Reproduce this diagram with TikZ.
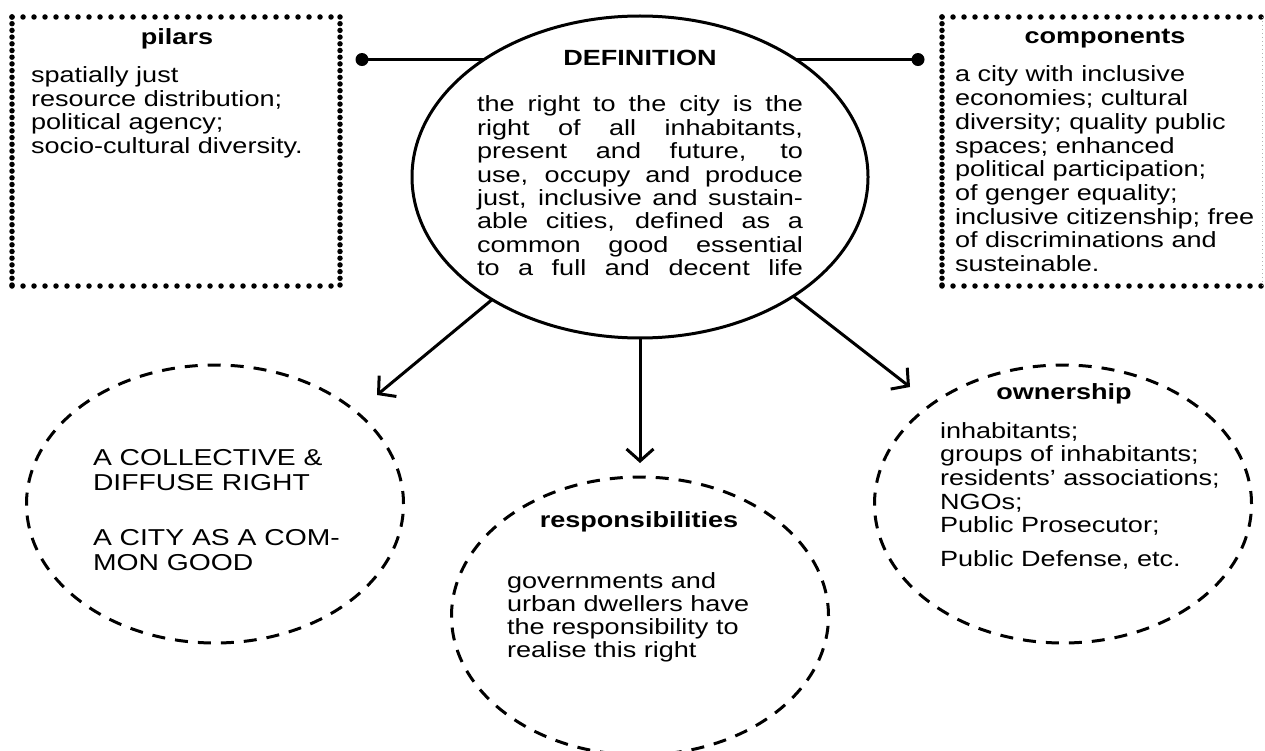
\documentclass[tikz,border=0pt]{standalone}
\usepackage{fontspec}
\setmainfont{Liberation Sans}[FakeStretch=1.23]
\usetikzlibrary{shapes.geometric,arrows.meta}
\begin{document}
\begin{tikzpicture}[x=1pt,y=-1pt,
  body/.style={inner sep=0pt, outer sep=0pt, anchor=base west, font=\fontsize{22}{23.4}\selectfont},
  ttl/.style={inner sep=0pt, outer sep=0pt, anchor=base, font=\fontsize{22}{24}\selectfont\bfseries},
  dashell/.style={ellipse, draw, line width=3pt, dash pattern=on 13pt off 10pt, minimum width=377pt, minimum height=278pt, inner sep=0pt, outer sep=0pt},
  hdots/.style={line width=5.5pt, line cap=round, dash pattern=on 0pt off 11pt},
  vdots/.style={line width=5.5pt, line cap=round, dash pattern=on 0pt off 6.7pt},
  conn/.style={line width=3pt},
  arr/.style={line width=3pt, -{Straight Barb[length=12pt,width=27pt]}},
  dotnode/.style={circle, fill, inner sep=0pt, outer sep=0pt, minimum size=13pt},
  boxnode/.style={rectangle, inner sep=0pt, outer sep=0pt}
]
\useasboundingbox (0,0) rectangle (1265,751);

% dotted boxes
\node[boxnode, minimum width=328pt, minimum height=269pt] (pil) at (176,151.5) {};
\draw[hdots] (pil.north west) -- (pil.north east);
\draw[hdots] (pil.south west) -- (pil.south east);
\draw[vdots] (pil.north west) -- (pil.south west);
\draw[vdots] (pil.north east) -- (pil.south east);

\node[boxnode, minimum width=320pt, minimum height=269pt] (com) at (1102,151.5) {};
\draw[hdots] (com.north west) -- (com.north east);
\draw[hdots] (com.south west) -- (com.south east);
\draw[vdots] (com.north west) -- (com.south west);
\draw[gray!60, line width=0.8pt, dash pattern=on 1pt off 3pt] (com.north east) -- (com.south east);

% definition
\node[ellipse, draw, line width=3pt, minimum width=456pt, minimum height=322pt, inner sep=0pt, outer sep=0pt] (def) at (640,177) {};

\coordinate (lx) at (362,0);
\coordinate (rx) at (918,0);
\node[dotnode] (ldot) at (def.143 -| lx) {};
\node[dotnode] (rdot) at (def.37 -| rx) {};
\draw[conn] (ldot.center) -- (def.143);
\draw[conn] (rdot.center) -- (def.37);

% lower ellipses
\node[dashell] (col) at (215,504) {};
\node[dashell] (resp) at (640,616) {};
\node[dashell] (own) at (1063,504) {};

\coordinate (ltip) at (377,395);
\coordinate (mtip) at (640,463);
\coordinate (rtip) at (910,387);
\draw[arr] (def) -- (ltip);
\draw[arr] (def) -- (mtip);
\draw[arr] (def) -- (rtip);

% texts
\node[ttl] (pilT) at (177,45) {pilars};
\node[body] (pilB) at (31,83) {\parbox[t]{300pt}{\raggedright spatially just\\resource distribution;\\political agency;\\socio-cultural diversity.}};

\node[ttl] (comT) at (1105,44) {components};
\node[body, font=\fontsize{22}{23.7}\selectfont] (comB) at (955,82) {\parbox[t]{300pt}{\raggedright a city with inclusive\\economies; cultural\\diversity; quality public\\spaces; enhanced\\political participation;\\of genger equality;\\inclusive citizenship; free\\of discriminations and\\susteinable.}};

\node[ttl] (defT) at (640,66) {DEFINITION};
\node[body] (defB) at (477,112) {\parbox[t]{326pt}{%
\makebox[326pt][s]{the right to the city is the}\\
\makebox[326pt][s]{right of all inhabitants,}\\
\makebox[326pt][s]{present and future, to}\\
\makebox[326pt][s]{use, occupy and produce}\\
\makebox[326pt][s]{just, inclusive and sustain-}\\
\makebox[326pt][s]{able cities, defined as a}\\
\makebox[326pt][s]{common good essential}\\
\makebox[326pt][s]{to a full and decent life}}};

\node[body, font=\fontsize{23}{25}\selectfont] (colT) at (93,465) {\parbox[t]{320pt}{\raggedright A COLLECTIVE \&\\DIFFUSE RIGHT\\[30pt]A CITY AS A COM-\\MON GOOD}};

\node[ttl] (respT) at (639,527) {responsibilities};
\node[body, font=\fontsize{22}{23.3}\selectfont] (respB) at (507,588) {\parbox[t]{300pt}{\raggedright governments and\\urban dwellers have\\the responsibility to\\realise this right}};

\node[ttl] (ownT) at (1064,399) {ownership};
\node[body, font=\fontsize{22}{23.7}\selectfont] (ownB) at (940,438) {\parbox[t]{300pt}{\raggedright inhabitants;\\groups of inhabitants;\\residents’ associations;\\NGOs;\\Public Prosecutor;\\[10pt]Public Defense, etc.}};
\end{tikzpicture}
\end{document}
